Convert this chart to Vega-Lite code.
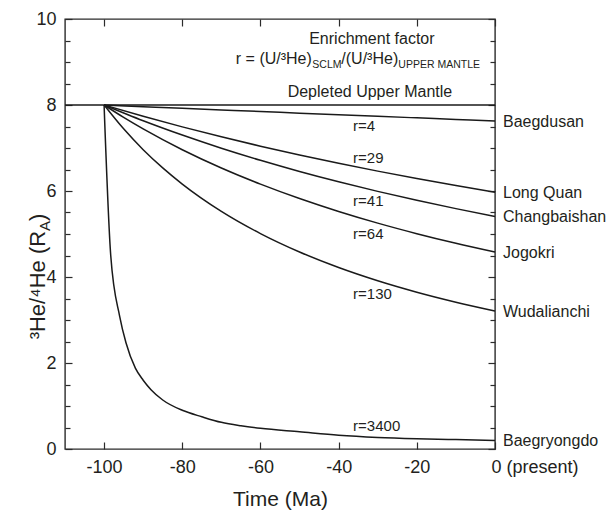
{
  "$schema": "https://vega.github.io/schema/vega-lite/v6.json",
  "width": 430,
  "height": 430,
  "autosize": {"type": "none"},
  "padding": {"left": 65, "top": 19, "right": 111, "bottom": 62},
  "background": "white",
  "config": {
    "view": {"stroke": "#2b2b2b", "strokeWidth": 1.4},
    "font": "Liberation Sans",
    "text": {"font": "Liberation Sans", "color": "#231f20"},
    "axis": {
      "labelFont": "Liberation Sans",
      "titleFont": "Liberation Sans",
      "labelColor": "#231f20",
      "titleColor": "#231f20",
      "tickColor": "#2b2b2b",
      "tickWidth": 1.2,
      "domain": false,
      "grid": false,
      "labelFontSize": 18,
      "titleFontWeight": "normal",
      "labelOverlap": false
    }
  },
  "datasets": {
    "dum": [{"time": -110, "ratio": 8}, {"time": 0, "ratio": 8}],
    "curves": [
      {"series": "r=4", "time": -100, "ratio": 8},
      {"series": "r=4", "time": -90, "ratio": 7.961},
      {"series": "r=4", "time": -80, "ratio": 7.923},
      {"series": "r=4", "time": -70, "ratio": 7.885},
      {"series": "r=4", "time": -60, "ratio": 7.848},
      {"series": "r=4", "time": -50, "ratio": 7.811},
      {"series": "r=4", "time": -40, "ratio": 7.774},
      {"series": "r=4", "time": -30, "ratio": 7.737},
      {"series": "r=4", "time": -20, "ratio": 7.701},
      {"series": "r=4", "time": -10, "ratio": 7.665},
      {"series": "r=4", "time": 0, "ratio": 7.63},
      {"series": "r=29", "time": -100, "ratio": 8},
      {"series": "r=29", "time": -90, "ratio": 7.737},
      {"series": "r=29", "time": -80, "ratio": 7.491},
      {"series": "r=29", "time": -70, "ratio": 7.26},
      {"series": "r=29", "time": -60, "ratio": 7.042},
      {"series": "r=29", "time": -50, "ratio": 6.838},
      {"series": "r=29", "time": -40, "ratio": 6.645},
      {"series": "r=29", "time": -30, "ratio": 6.462},
      {"series": "r=29", "time": -20, "ratio": 6.289},
      {"series": "r=29", "time": -10, "ratio": 6.126},
      {"series": "r=29", "time": 0, "ratio": 5.97},
      {"series": "r=41", "time": -100, "ratio": 8},
      {"series": "r=41", "time": -90, "ratio": 7.634},
      {"series": "r=41", "time": -80, "ratio": 7.301},
      {"series": "r=41", "time": -70, "ratio": 6.995},
      {"series": "r=41", "time": -60, "ratio": 6.714},
      {"series": "r=41", "time": -50, "ratio": 6.454},
      {"series": "r=41", "time": -40, "ratio": 6.214},
      {"series": "r=41", "time": -30, "ratio": 5.991},
      {"series": "r=41", "time": -20, "ratio": 5.784},
      {"series": "r=41", "time": -10, "ratio": 5.59},
      {"series": "r=41", "time": 0, "ratio": 5.409},
      {"series": "r=64", "time": -100, "ratio": 8},
      {"series": "r=64", "time": -95, "ratio": 7.712},
      {"series": "r=64", "time": -90, "ratio": 7.444},
      {"series": "r=64", "time": -80, "ratio": 6.96},
      {"series": "r=64", "time": -70, "ratio": 6.535},
      {"series": "r=64", "time": -60, "ratio": 6.16},
      {"series": "r=64", "time": -50, "ratio": 5.825},
      {"series": "r=64", "time": -40, "ratio": 5.524},
      {"series": "r=64", "time": -30, "ratio": 5.253},
      {"series": "r=64", "time": -20, "ratio": 5.008},
      {"series": "r=64", "time": -10, "ratio": 4.784},
      {"series": "r=64", "time": 0, "ratio": 4.579},
      {"series": "r=130", "time": -100, "ratio": 8},
      {"series": "r=130", "time": -95, "ratio": 7.445},
      {"series": "r=130", "time": -90, "ratio": 6.961},
      {"series": "r=130", "time": -85, "ratio": 6.537},
      {"series": "r=130", "time": -80, "ratio": 6.161},
      {"series": "r=130", "time": -70, "ratio": 5.526},
      {"series": "r=130", "time": -60, "ratio": 5.01},
      {"series": "r=130", "time": -50, "ratio": 4.582},
      {"series": "r=130", "time": -40, "ratio": 4.221},
      {"series": "r=130", "time": -30, "ratio": 3.913},
      {"series": "r=130", "time": -20, "ratio": 3.647},
      {"series": "r=130", "time": -10, "ratio": 3.415},
      {"series": "r=130", "time": 0, "ratio": 3.21},
      {"series": "r=3400", "time": -100, "ratio": 8},
      {"series": "r=3400", "time": -98.3, "ratio": 4.5},
      {"series": "r=3400", "time": -96, "ratio": 3.08},
      {"series": "r=3400", "time": -94.4, "ratio": 2.47},
      {"series": "r=3400", "time": -92, "ratio": 1.88},
      {"series": "r=3400", "time": -90, "ratio": 1.6},
      {"series": "r=3400", "time": -88, "ratio": 1.38},
      {"series": "r=3400", "time": -85, "ratio": 1.14},
      {"series": "r=3400", "time": -80, "ratio": 0.9},
      {"series": "r=3400", "time": -75, "ratio": 0.75},
      {"series": "r=3400", "time": -70, "ratio": 0.62},
      {"series": "r=3400", "time": -65, "ratio": 0.54},
      {"series": "r=3400", "time": -60, "ratio": 0.48},
      {"series": "r=3400", "time": -50, "ratio": 0.4},
      {"series": "r=3400", "time": -40, "ratio": 0.32},
      {"series": "r=3400", "time": -30, "ratio": 0.27},
      {"series": "r=3400", "time": -20, "ratio": 0.24},
      {"series": "r=3400", "time": -10, "ratio": 0.22},
      {"series": "r=3400", "time": 0, "ratio": 0.2}
    ],
    "ends": [
      {"label": "Baegdusan", "time": 0, "ratio": 7.63},
      {"label": "Long Quan", "time": 0, "ratio": 5.97},
      {"label": "Changbaishan", "time": 0, "ratio": 5.409},
      {"label": "Jogokri", "time": 0, "ratio": 4.579},
      {"label": "Wudalianchi", "time": 0, "ratio": 3.21},
      {"label": "Baegryongdo", "time": 0, "ratio": 0.2}
    ],
    "rlabels": [
      {"label": "r=4", "time": -36.3, "ratio": 7.405},
      {"label": "r=29", "time": -36.3, "ratio": 6.65},
      {"label": "r=41", "time": -36.3, "ratio": 5.64},
      {"label": "r=64", "time": -36.3, "ratio": 4.89},
      {"label": "r=130", "time": -36.3, "ratio": 3.49},
      {"label": "r=3400", "time": -36.3, "ratio": 0.41}
    ],
    "heads": [
      {"label": "Enrichment factor", "time": -31.5, "ratio": 9.41},
      {"label": "Depleted Upper Mantle", "time": -32, "ratio": 8.195}
    ]
  },
  "layer": [
    {
      "data": {"name": "dum"},
      "mark": {"type": "line", "color": "#1a1a1a", "strokeWidth": 1.5},
      "encoding": {
        "x": {"field": "time", "type": "quantitative", "scale": {"domain": [-110, 0], "nice": false, "zero": false},
          "axis": {"orient": "top", "values": [-100, -80, -60, -40, -20, 0], "labels": false, "tickSize": -7, "title": null}},
        "y": {"field": "ratio", "type": "quantitative", "scale": {"domain": [0, 10], "nice": false, "zero": false},
          "axis": {"orient": "right", "values": [0, 0.5, 1, 1.5, 2, 2.5, 3, 3.5, 4, 4.5, 5, 5.5, 6, 6.5, 7, 7.5, 8, 8.5, 9, 9.5, 10], "labels": false,
            "tickSize": {"condition": {"test": "datum.value % 2 === 0", "value": -7}, "value": -5}, "title": null}}
      }
    },
    {
      "data": {"name": "curves"},
      "mark": {"type": "line", "color": "#1a1a1a", "strokeWidth": 1.5, "interpolate": "monotone"},
      "encoding": {
        "x": {"field": "time", "type": "quantitative", "scale": {"domain": [-110, 0], "nice": false, "zero": false},
          "axis": {"orient": "bottom", "values": [-100, -80, -60, -40, -20, 0], "tickSize": -7, "labelPadding": 16, "labelFlush": false,
            "labelExpr": "datum.value === 0 ? '0 (present)' : '' + datum.value",
            "labelAlign": {"condition": {"test": "datum.value === 0", "value": "left"}, "value": "center"},
            "labelOffset": {"condition": {"test": "datum.value === 0", "value": -4}, "value": 0},
            "title": "Time (Ma)", "titleFontSize": 21, "titleY": 39, "titleBaseline": "top"}},
        "y": {"field": "ratio", "type": "quantitative", "scale": {"domain": [0, 10], "nice": false, "zero": false},
          "axis": {"orient": "left", "values": [0, 0.5, 1, 1.5, 2, 2.5, 3, 3.5, 4, 4.5, 5, 5.5, 6, 6.5, 7, 7.5, 8, 8.5, 9, 9.5, 10],
            "labelExpr": "datum.value % 2 === 0 ? '' + datum.value : ''",
            "tickSize": {"condition": {"test": "datum.value % 2 === 0", "value": -7}, "value": -5},
            "labelPadding": 16, "title": null}},
        "detail": {"field": "series"}
      }
    },
    {
      "data": {"name": "ends"},
      "mark": {"type": "text", "align": "left", "baseline": "middle", "dx": 8, "dy": 1, "fontSize": 16},
      "encoding": {
        "x": {"field": "time", "type": "quantitative", "scale": {"domain": [-110, 0], "nice": false, "zero": false}, "axis": null},
        "y": {"field": "ratio", "type": "quantitative", "scale": {"domain": [0, 10], "nice": false, "zero": false}, "axis": null},
        "text": {"field": "label"}
      }
    },
    {
      "data": {"name": "rlabels"},
      "mark": {"type": "text", "align": "left", "baseline": "alphabetic", "fontSize": 15},
      "encoding": {
        "x": {"field": "time", "type": "quantitative", "axis": null},
        "y": {"field": "ratio", "type": "quantitative", "axis": null},
        "text": {"field": "label"}
      }
    },
    {
      "data": {"name": "heads"},
      "mark": {"type": "text", "align": "center", "baseline": "alphabetic", "fontSize": 16},
      "encoding": {
        "x": {"field": "time", "type": "quantitative", "axis": null},
        "y": {"field": "ratio", "type": "quantitative", "axis": null},
        "text": {"field": "label"}
      }
    },
    {
      "data": {"values": [{}]},
      "mark": {"type": "text", "text": "r = (U/³He)", "align": "left", "baseline": "alphabetic", "fontSize": 16},
      "encoding": {"x": {"datum": -66.3, "type": "quantitative", "axis": null}, "y": {"datum": 8.95, "type": "quantitative", "axis": null}}
    },
    {
      "data": {"values": [{}]},
      "mark": {"type": "text", "text": "SCLM", "align": "left", "baseline": "alphabetic", "fontSize": 10.5, "dx": 76.5, "dy": 4},
      "encoding": {"x": {"datum": -66.3, "type": "quantitative", "axis": null}, "y": {"datum": 8.95, "type": "quantitative", "axis": null}}
    },
    {
      "data": {"values": [{}]},
      "mark": {"type": "text", "text": "/(U/³He)", "align": "left", "baseline": "alphabetic", "fontSize": 16, "dx": 105.5},
      "encoding": {"x": {"datum": -66.3, "type": "quantitative", "axis": null}, "y": {"datum": 8.95, "type": "quantitative", "axis": null}}
    },
    {
      "data": {"values": [{}]},
      "mark": {"type": "text", "text": "UPPER MANTLE", "align": "left", "baseline": "alphabetic", "fontSize": 10.5, "dx": 162.5, "dy": 4},
      "encoding": {"x": {"datum": -66.3, "type": "quantitative", "axis": null}, "y": {"datum": 8.95, "type": "quantitative", "axis": null}}
    },
    {
      "data": {"values": [{}]},
      "mark": {"type": "text", "text": "³He/⁴He (R", "align": "right", "baseline": "alphabetic", "fontSize": 22, "angle": 270, "dx": 106.3, "dy": -20},
      "encoding": {"x": {"datum": -110, "type": "quantitative", "axis": null}, "y": {"datum": 2.6, "type": "quantitative", "axis": null}}
    },
    {
      "data": {"values": [{}]},
      "mark": {"type": "text", "text": "A", "align": "left", "baseline": "alphabetic", "fontSize": 15, "angle": 270, "dx": 106.3, "dy": -15},
      "encoding": {"x": {"datum": -110, "type": "quantitative", "axis": null}, "y": {"datum": 2.6, "type": "quantitative", "axis": null}}
    },
    {
      "data": {"values": [{}]},
      "mark": {"type": "text", "text": ")", "align": "left", "baseline": "alphabetic", "fontSize": 22, "angle": 270, "dx": 116.3, "dy": -20},
      "encoding": {"x": {"datum": -110, "type": "quantitative", "axis": null}, "y": {"datum": 2.6, "type": "quantitative", "axis": null}}
    }
  ]
}
